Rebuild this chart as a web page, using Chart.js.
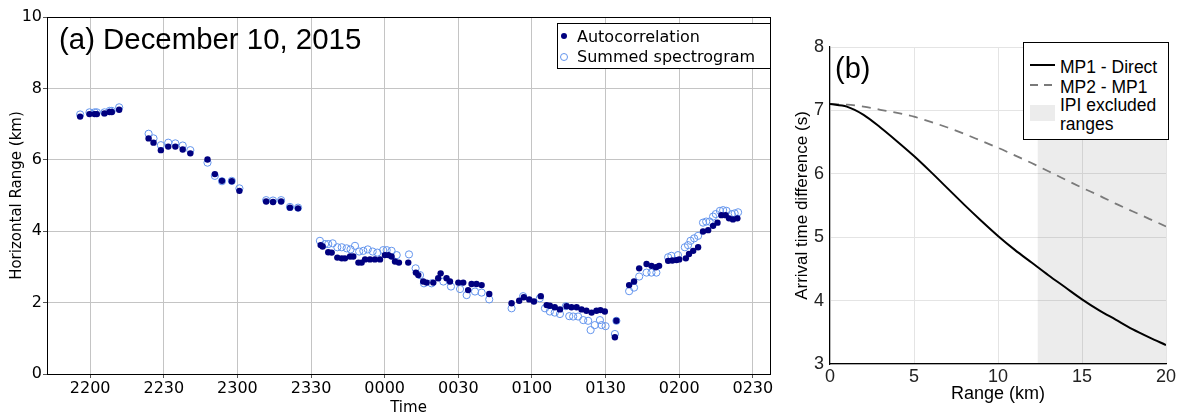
<!DOCTYPE html>
<html>
<head>
<meta charset="utf-8">
<script src="https://cdn.jsdelivr.net/npm/chart.js"></script>
<style>
  html, body { margin: 0; padding: 0; background: #fff; }
  body { width: 1180px; height: 417px; position: relative; overflow: hidden; }
  .panel { position: absolute; top: 0; height: 417px; }
  .note { position: absolute; font-family: "Liberation Sans", Arial, sans-serif; color: #000; white-space: nowrap; line-height: 1; }
  .legend { position: absolute; background: #fff; border: 1px solid #000; box-sizing: border-box; }
  .legA { font-family: "DejaVu Sans", sans-serif; font-size: 16px; }
  .legA div { position: absolute; left: 0; white-space: nowrap; }
  .legB { font-family: "Liberation Sans", Arial, sans-serif; font-size: 17.5px; }
  .legB div { position: absolute; white-space: nowrap; }
</style>
</head>
<body>
<div class="panel" style="left:0;width:790px"><canvas id="rangeChart" width="790" height="417"></canvas></div>
<div class="panel" style="left:790px;width:390px"><canvas id="delayChart" width="390" height="417"></canvas></div>

<div class="note" style="left:59px;top:24px;font-size:29.4px">(a) December 10, 2015</div>
<div class="note" style="left:835px;top:54px;font-size:29px">(b)</div>

<div class="legend legA" style="left:557px;top:23px;width:214px;height:46px">
  <span style="position:absolute;left:3px;top:9px;width:6px;height:6px;border-radius:50%;background:#00007f"></span>
  <div style="left:19px;top:3px">Autocorrelation</div>
  <span style="position:absolute;left:2px;top:29px;width:6px;height:6px;border-radius:50%;border:1px solid #6495ed"></span>
  <div style="left:19px;top:23px">Summed spectrogram</div>
</div>

<div class="legend legB" style="left:1023px;top:42px;width:146px;height:98px">
  <span style="position:absolute;left:6px;top:21px;width:25px;height:0;border-top:2px solid #000"></span>
  <div style="left:36px;top:14px">MP1 - Direct</div>
  <span style="position:absolute;left:6px;top:41px;width:26px;height:2px;background:repeating-linear-gradient(90deg,#7a7a7a 0 8px,transparent 8px 14px)"></span>
  <div style="left:36px;top:34px">MP2 - MP1</div>
  <span style="position:absolute;left:6px;top:62px;width:25px;height:16px;background:#ececec"></span>
  <div style="left:36px;top:53px;line-height:19px">IPI excluded<br>ranges</div>
</div>

<script>
// panel (a): time in minutes after 22:00, range in km
const autoTimes = [-4.1, -0.3, 1.8, 2.7, 5.8, 7.9, 8.8, 11.8,
  23.8, 25.8, 28.8, 31.8, 34.7, 37.7, 40.8,
  47.8, 50.8, 53.7, 57.7, 60.8,
  71.7, 74.5, 77.8, 81.4, 84.7,
  93.9, 94.7, 97.0, 98.4, 100.7, 102.5, 103.8, 105.9, 107.2, 109.3, 110.6, 112.0, 114.0, 116.0, 118.1,
  120.1, 121.5, 122.8, 124.2, 125.8, 129.6, 132.7, 133.7, 135.7, 137.1, 139.8, 141.8, 142.8, 145.2,
  146.6, 150.0, 152.0, 154.0, 155.4, 157.4, 159.5, 162.6,
  171.7, 174.8, 176.7, 178.9, 180.8, 183.6, 186.0, 187.3, 189.3, 191.4, 194.1, 196.1, 198.2, 200.2,
  202.2, 204.3, 206.3, 207.9, 209.7, 213.8, 214.4,
  219.6, 221.6, 223.7, 226.7, 228.7, 230.5, 231.8, 235.5, 237.2, 238.9, 240.0, 242.7, 244.0, 245.7,
  247.7, 249.7, 251.8, 253.8, 255.6, 257.2, 258.9, 260.3, 261.9, 263.7];
const autoRange = [7.21, 7.28, 7.28, 7.28, 7.30, 7.34, 7.34, 7.40,
  6.60, 6.48, 6.27, 6.37, 6.37, 6.29, 6.18,
  6.01, 5.60, 5.41, 5.40, 5.13,
  4.83, 4.82, 4.83, 4.66, 4.64,
  3.61, 3.57, 3.41, 3.40, 3.26, 3.24, 3.24, 3.29, 3.29, 3.12, 3.12, 3.21, 3.21, 3.21, 3.21,
  3.33, 3.33, 3.29, 3.15, 3.12, 3.12, 2.84, 2.77, 2.59, 2.56, 2.56, 2.68, 2.82, 2.68,
  2.59, 2.56, 2.56, 2.35, 2.52, 2.52, 2.49, 2.24,
  1.98, 2.05, 2.15, 2.09, 2.03, 2.18, 1.93, 1.91, 1.87, 1.81, 1.90, 1.87, 1.87, 1.81,
  1.77, 1.72, 1.77, 1.79, 1.75, 1.03, 1.49,
  2.49, 2.59, 2.96, 3.08, 3.03, 2.99, 3.03, 3.17, 3.18, 3.19, 3.21, 3.24, 3.36, 3.45,
  3.55, 3.99, 4.03, 4.15, 4.24, 4.45, 4.45, 4.36, 4.33, 4.36];

const specTimes = [-4.1, -0.3, 1.8, 2.7, 5.8, 7.9, 8.8, 11.8,
  23.8, 25.8, 28.8, 31.8, 34.7, 37.7, 40.8,
  47.8, 50.8, 53.7, 57.7, 60.8,
  71.7, 74.5, 77.8, 81.4, 84.7,
  93.6, 95.7, 97.0, 98.8, 100.7, 102.5, 104.5, 106.1, 107.9, 109.6, 111.3, 113.1, 115.1, 117.0, 119.4,
  120.8, 122.8, 124.9, 129.9, 132.6, 134.4, 136.0, 139.1, 143.9, 147.0, 150.7, 153.4, 156.8, 159.5, 162.6,
  171.7, 176.4, 183.2, 185.3, 187.3, 189.3, 191.4, 193.8, 195.2, 196.8, 198.8, 200.9, 202.9, 203.9,
  205.6, 207.7, 208.4, 210.0, 213.8, 214.4,
  219.6, 221.6, 223.7, 226.7, 228.7, 230.7, 235.5, 236.8, 239.5, 242.3, 243.6, 244.6, 246.1, 247.7,
  249.7, 251.0, 252.4, 253.8, 254.9, 256.6, 257.9, 259.3, 261.4, 262.6, 264.0];
const specRange = [7.27, 7.33, 7.33, 7.33, 7.33, 7.37, 7.37, 7.47,
  6.73, 6.60, 6.41, 6.48, 6.46, 6.40, 6.27,
  5.92, 5.55, 5.40, 5.41, 5.20,
  4.87, 4.86, 4.87, 4.68, 4.66,
  3.73, 3.64, 3.64, 3.66, 3.55, 3.55, 3.52, 3.49, 3.59, 3.43, 3.45, 3.49, 3.43, 3.40, 3.47,
  3.47, 3.45, 3.33, 3.35, 2.96, 2.77, 2.54, 2.54, 2.59, 2.45, 2.38, 2.21, 2.31, 2.28, 2.09,
  1.84, 2.18, 2.12, 1.84, 1.75, 1.72, 1.68, 1.90, 1.62, 1.61, 1.61, 1.51, 1.49, 1.23,
  1.37, 1.51, 1.37, 1.34, 1.12, 1.49,
  2.32, 2.42, 2.73, 2.84, 2.84, 2.84, 3.27, 3.31, 3.33, 3.55, 3.61, 3.73, 3.80, 3.87,
  4.24, 4.27, 4.27, 4.41, 4.48, 4.57, 4.59, 4.57, 4.48, 4.50, 4.53];

const timeTicks = [0, 30, 60, 90, 120, 150, 180, 210, 240, 270];
const timeTickLabels = ['2200', '2230', '2300', '2330', '0000', '0030', '0100', '0130', '0200', '0230'];

// panel (b): range in km, arrival time difference in s
const rangeKm = [0, 1, 2, 3, 4, 5, 6, 7, 8, 9, 10, 11, 12, 13, 14, 15, 16, 17, 18, 19, 20];
const mp1Direct = [7.10, 7.06, 6.93, 6.73, 6.51, 6.28, 6.03, 5.77, 5.51, 5.26, 5.02,
  4.80, 4.60, 4.40, 4.21, 4.02, 3.85, 3.70, 3.55, 3.42, 3.30];
const mp2Mp1 = [7.10, 7.09, 7.06, 7.01, 6.96, 6.90, 6.82, 6.73, 6.63, 6.52, 6.41,
  6.29, 6.17, 6.04, 5.91, 5.78, 5.66, 5.53, 5.41, 5.29, 5.17];
const ipiExcluded = [12.35, 20];

const pairs = (xs, ys) => xs.map((x, i) => ({ x: x, y: ys[i] }));

const frame = {
    id: 'frame',
    afterDraw(chart) {
        const a = chart.chartArea;
        const c = chart.ctx;
        c.save();
        c.strokeStyle = '#000';
        c.lineWidth = 1;
        c.strokeRect(Math.round(a.left) + 0.5, Math.round(a.top) + 0.5, Math.round(a.right - a.left), Math.round(a.bottom - a.top));
        c.restore();
    }
};

const dejavu = { family: '"DejaVu Sans", sans-serif', size: 16 };
const arial = { family: '"Liberation Sans", Arial, sans-serif', size: 18 };

new Chart(document.getElementById('rangeChart'), {
    type: 'scatter',
    data: {
        datasets: [
            {
                label: 'Autocorrelation',
                data: pairs(autoTimes, autoRange),
                pointRadius: 3.2,
                pointBackgroundColor: '#00007f',
                pointBorderColor: '#00007f',
                pointBorderWidth: 0
            },
            {
                label: 'Summed spectrogram',
                data: pairs(specTimes, specRange),
                pointRadius: 3.6,
                pointBackgroundColor: 'rgba(255,255,255,0)',
                pointBorderColor: '#6495ed',
                pointBorderWidth: 1
            }
        ]
    },
    options: {
        responsive: false,
        animation: false,
        layout: { padding: { left: 0, top: 17, right: 20, bottom: 0 } },
        scales: {
            x: {
                type: 'linear',
                min: -17.6,
                max: 277,
                afterBuildTicks: (scale) => { scale.ticks = timeTicks.map(v => ({ value: v })); },
                afterFit: (scale) => { scale.height = 43; },
                ticks: {
                    color: '#000',
                    font: dejavu,
                    padding: 1,
                    maxRotation: 0,
                    callback: (v) => timeTickLabels[timeTicks.indexOf(v)]
                },
                grid: { color: '#c4c4c4', tickColor: '#555', tickLength: 4 },
                border: { color: '#000' },
                title: { display: true, text: 'Time', color: '#000', font: { family: dejavu.family, size: 15 }, padding: { top: 0, bottom: 0 } }
            },
            y: {
                min: 0,
                max: 10,
                afterFit: (scale) => { scale.width = 47; },
                ticks: { stepSize: 2, color: '#000', font: dejavu, padding: 1 },
                grid: { color: '#c4c4c4', tickColor: '#555', tickLength: 4 },
                border: { color: '#000' },
                title: { display: true, text: 'Horizontal Range (km)', color: '#000', font: { family: dejavu.family, size: 15 }, padding: { top: 8, bottom: 0 } }
            }
        },
        plugins: {
            legend: { display: false },
            tooltip: { enabled: false }
        }
    },
    plugins: [frame]
});

new Chart(document.getElementById('delayChart'), {
    type: 'line',
    data: {
        datasets: [
            {
                label: 'MP1 - Direct',
                data: pairs(rangeKm, mp1Direct),
                borderColor: '#000',
                borderWidth: 2,
                pointRadius: 0,
                cubicInterpolationMode: 'monotone'
            },
            {
                label: 'MP2 - MP1',
                data: pairs(rangeKm, mp2Mp1),
                borderColor: '#7a7a7a',
                borderWidth: 1.8,
                borderDash: [9, 7],
                pointRadius: 0,
                cubicInterpolationMode: 'monotone'
            },
            {
                label: 'IPI excluded ranges',
                data: ipiExcluded.map(x => ({ x: x, y: 8 })),
                borderWidth: 0,
                pointRadius: 0,
                fill: 'start',
                backgroundColor: 'rgba(0,0,0,0.075)'
            }
        ]
    },
    options: {
        responsive: false,
        animation: false,
        layout: { padding: { left: 0, top: 47, right: 14, bottom: 0 } },
        scales: {
            x: {
                type: 'linear',
                min: 0,
                max: 20,
                afterFit: (scale) => { scale.height = 53; },
                ticks: { stepSize: 5, color: '#222', font: arial, padding: 2, maxRotation: 0 },
                grid: { color: '#e4e4e4', drawTicks: false },
                border: { color: '#000', width: 1.2 },
                title: { display: true, text: 'Range (km)', color: '#000', font: arial, padding: { top: 0, bottom: 12 } }
            },
            y: {
                min: 3,
                max: 8,
                afterFit: (scale) => { scale.width = 40; },
                ticks: { stepSize: 1, color: '#222', font: arial, padding: 6 },
                grid: { color: '#e4e4e4', drawTicks: false },
                border: { color: '#000', width: 1.2 },
                title: { display: true, text: 'Arrival time difference (s)', color: '#000', font: { family: arial.family, size: 17 }, padding: { top: 2, bottom: 0 } }
            }
        },
        plugins: {
            legend: { display: false },
            tooltip: { enabled: false }
        }
    }
});
</script>
</body>
</html>
